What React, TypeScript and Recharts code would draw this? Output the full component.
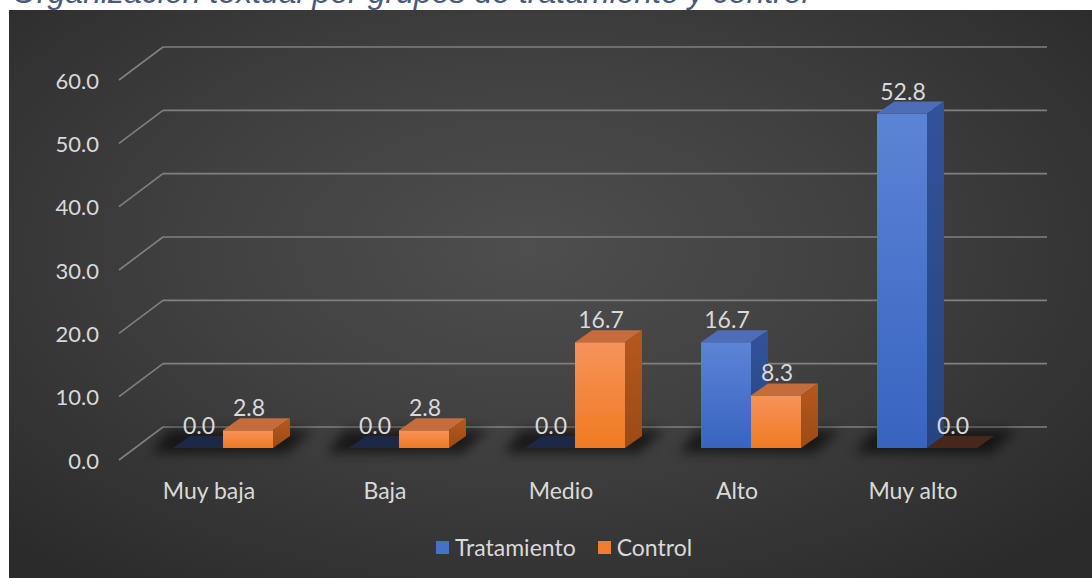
import React from 'react';
import { BarChart, Bar, XAxis, YAxis, CartesianGrid, LabelList } from 'recharts';

const categories = ['Muy baja', 'Baja', 'Medio', 'Alto', 'Muy alto'];
const tratamiento = [0.0, 0.0, 0.0, 16.7, 52.8];
const control = [2.8, 2.8, 16.7, 8.3, 0.0];
const yTicks = [0, 10, 20, 30, 40, 50, 60];

const data = categories.map((name, i) => ({ name, tratamiento: tratamiento[i], control: control[i] }));

const FONT = 'Lato, "Noto Sans", sans-serif';
const TEXT = '#d9d9d9';
// depth of each bar (3D look)
const DX = 17;
const DY = 12;

const palettes: Record<string, any> = {
  blue: { front: 'url(#blueFront)', side: 'url(#blueSide)', top: '#4d6db8', flat: '#1c2946' },
  orange: { front: 'url(#orangeFront)', side: 'url(#orangeSide)', top: '#c46c3c', flat: '#46271a' },
};

function Box3D(props: any) {
  const { x, y, width, height, kind, shadow } = props;
  const p = palettes[kind];
  const base = y + height;
  return (
    <g>
      {shadow && (
        // shadow for the whole pair, drawn under the first series
        <polygon
          points={`${x - 22},${base + 5} ${x + 2 * width + 14},${base + 5} ${x + 2 * width + DX + 22},${base - DY - 6} ${x - 4},${base - DY - 6}`}
          fill="#000"
          opacity={0.6}
          filter="url(#blurShadow)"
        />
      )}
      {height < 0.5 ? (
        <polygon points={`${x},${base} ${x + DX},${base - DY} ${x + width + DX},${base - DY} ${x + width},${base}`} fill={p.flat} />
      ) : (
        <>
          <rect x={x} y={y} width={width} height={height} fill={p.front} />
          <polygon points={`${x},${y} ${x + DX},${y - DY} ${x + width + DX},${y - DY} ${x + width},${y}`} fill={p.top} />
          <polygon points={`${x + width},${y} ${x + width + DX},${y - DY} ${x + width + DX},${base - DY} ${x + width},${base}`} fill={p.side} />
        </>
      )}
    </g>
  );
}

function GridLine(props: any) {
  const { x1, y1, x2 } = props;
  return (
    <g stroke="#808080" strokeWidth={1.6} fill="none">
      <line x1={x1 - 16} y1={y1 + 12} x2={x1 + 28} y2={y1 - 21} />
      <line x1={x1 + 28} y1={y1 - 21} x2={x2 + 32} y2={y1 - 21} />
    </g>
  );
}

function YTick(props: any) {
  const { x, y, payload } = props;
  return (
    <text x={x - 28} y={y + 12} textAnchor="end" dominantBaseline="central" fill={TEXT} fontFamily={FONT} fontSize={22}>
      {Number(payload.value).toFixed(1)}
    </text>
  );
}

function XTick(props: any) {
  const { x, y, payload } = props;
  return (
    <text x={x - 14} y={y} dy={40} textAnchor="middle" dominantBaseline="central" fill={TEXT} fontFamily={FONT} fontSize={23}>
      {payload.value}
    </text>
  );
}

function ValueLabel(props: any) {
  const { x, y, width, value } = props;
  return (
    <text x={x + width / 2 + 1} y={y - 23} textAnchor="middle" dominantBaseline="central" fill={TEXT} fontFamily={FONT} fontSize={23}>
      {Number(value).toFixed(1)}
    </text>
  );
}

function LegendBox() {
  const items = [
    { label: 'Tratamiento', color: '#4472c4' },
    { label: 'Control', color: '#ed7d31' },
  ];
  return (
    <div style={{ display: 'flex', alignItems: 'center', gap: 22, fontFamily: FONT, fontSize: 23, color: TEXT }}>
      {items.map((it) => (
        <div key={it.label} style={{ display: 'flex', alignItems: 'center', gap: 6 }}>
          <span style={{ width: 13, height: 13, background: it.color, display: 'inline-block' }} />
          <span>{it.label}</span>
        </div>
      ))}
    </div>
  );
}

export default function App() {
  return (
    <div style={{ position: 'absolute', left: 0, top: 0, width: 1092, height: 578, background: '#fff', overflow: 'hidden' }}>
      <div
        style={{
          position: 'absolute',
          left: 9,
          top: 10,
          width: 1083,
          height: 568,
          background: 'radial-gradient(ellipse 70% 75% at 48% 42%, #4e4e4e 0%, #404040 45%, #2a2a2a 100%)',
        }}
      />
      <div
        style={{
          position: 'absolute',
          left: 12,
          top: -26,
          fontFamily: 'Arial, "Liberation Sans", sans-serif',
          fontStyle: 'italic',
          fontSize: 32,
          color: '#4a5a78',
          whiteSpace: 'nowrap',
          lineHeight: '36px',
        }}
      >
        Organización textual por grupos de tratamiento y control
      </div>
      <div style={{ position: 'absolute', left: 0, top: 0 }}>
        <BarChart
          width={1092}
          height={578}
          data={data}
          margin={{ top: 68, right: 77, bottom: 129, left: 134 }}
          barCategoryGap="21.6%"
          barGap={0}
        >
          <defs>
            <linearGradient id="blueFront" x1="0" y1="0" x2="0" y2="1">
              <stop offset="0%" stopColor="#5c84d6" />
              <stop offset="100%" stopColor="#3864c0" />
            </linearGradient>
            <linearGradient id="blueSide" x1="0" y1="0" x2="0" y2="1">
              <stop offset="0%" stopColor="#31539a" />
              <stop offset="100%" stopColor="#26457f" />
            </linearGradient>
            <linearGradient id="orangeFront" x1="0" y1="0" x2="0" y2="1">
              <stop offset="0%" stopColor="#f6935a" />
              <stop offset="100%" stopColor="#f07a22" />
            </linearGradient>
            <linearGradient id="orangeSide" x1="0" y1="0" x2="0" y2="1">
              <stop offset="0%" stopColor="#b5581e" />
              <stop offset="100%" stopColor="#9c4a16" />
            </linearGradient>
            <filter id="blurShadow" x="-50%" y="-200%" width="200%" height="500%">
              <feGaussianBlur stdDeviation="6" />
            </filter>
          </defs>
          <CartesianGrid horizontal={<GridLine />} vertical={false} />
          <XAxis dataKey="name" axisLine={false} tickLine={false} tickSize={0} height={1} tick={<XTick />} interval={0} />
          <YAxis domain={[0, 60]} ticks={yTicks} width={1} axisLine={false} tickLine={false} tick={<YTick />} />
          <Bar dataKey="tratamiento" name="Tratamiento" fill="#4472c4" isAnimationActive={false} shape={<Box3D kind="blue" shadow />}>
            <LabelList dataKey="tratamiento" content={<ValueLabel />} />
          </Bar>
          <Bar dataKey="control" name="Control" fill="#ed7d31" isAnimationActive={false} shape={<Box3D kind="orange" />}>
            <LabelList dataKey="control" content={<ValueLabel />} />
          </Bar>
        </BarChart>
      </div>
      <div style={{ position: 'absolute', left: 436, top: 533 }}>
        <LegendBox />
      </div>
    </div>
  );
}
